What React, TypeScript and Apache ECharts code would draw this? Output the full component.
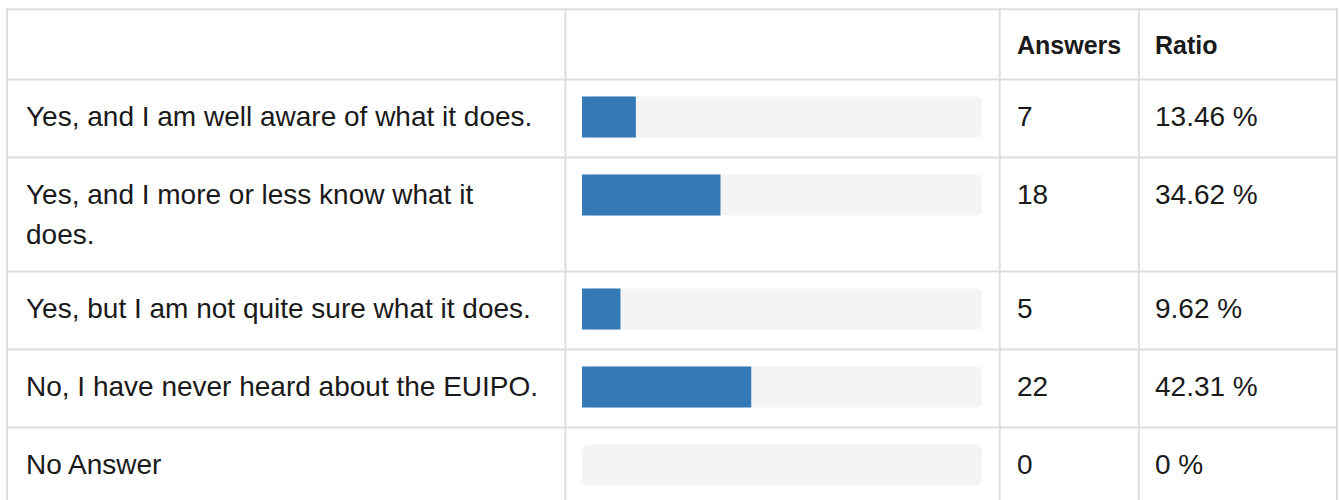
import React, { useEffect, useRef } from "react";
import * as echarts from "echarts";

// ---- data ----
const answerLabels = [
  "Yes, and I am well aware of what it does.",
  "Yes, and I more or less know what it does.",
  "Yes, but I am not quite sure what it does.",
  "No, I have never heard about the EUIPO.",
  "No Answer",
];
const answerCounts = [7, 18, 5, 22, 0];
const answerRatios = [13.46, 34.62, 9.62, 42.31, 0];
const headerAnswers = "Answers";
const headerRatio = "Ratio";

// ---- layout (pixels) ----
const W = 1340;
const H = 500;
const tableTop = 9.3;
const rowLines = [79.5, 157.5, 271.5, 349.5, 427.5];
const colLines = [7, 565.3, 999.7, 1138.8, 1337];
const barLeft = 582;
const barWidthPx = 400;
const barHeight = 41;
const barOffset = 17;
const labelX = 26;
const countX = 1017;
const ratioX = 1155;
const FONT = "'Liberation Sans', Arial, Helvetica, sans-serif";
const TEXT = "#1a1a1a";
const BORDER = "#dedede";
const fontSize = 28;
const lineH = 40;

export default function App() {
  const ref = useRef<HTMLDivElement>(null);

  useEffect(() => {
    if (!ref.current) return;
    const chart = echarts.init(ref.current, undefined, { renderer: "svg" });

    const grids: any[] = [];
    const xAxes: any[] = [];
    const yAxes: any[] = [];
    const series: any[] = [];
    const graphics: any[] = [];

    answerLabels.forEach((label, i) => {
      const top = rowLines[i] + barOffset;
      grids.push({ left: barLeft, top, width: barWidthPx, height: barHeight, containLabel: false });
      xAxes.push({ type: "value", gridIndex: i, min: 0, max: 100, show: false });
      yAxes.push({ type: "category", gridIndex: i, data: [label], show: false });
      series.push({
        type: "bar",
        xAxisIndex: i,
        yAxisIndex: i,
        data: [answerRatios[i]],
        barWidth: barHeight,
        showBackground: true,
        backgroundStyle: { color: "#f4f4f4", borderRadius: 6 },
        itemStyle: { color: "#337ab7" },
        silent: true,
      });
      const textY = top + barHeight / 2 - lineH / 2 - 0.5;
      graphics.push({
        type: "text",
        x: labelX,
        y: textY,
        style: {
          text: label,
          fill: TEXT,
          font: `${fontSize}px ${FONT}`,
          width: 516,
          overflow: "break",
          lineHeight: lineH,
          verticalAlign: "top",
        },
      });
      graphics.push({
        type: "text",
        x: countX,
        y: textY,
        style: {
          text: String(answerCounts[i]),
          fill: TEXT,
          font: `${fontSize}px ${FONT}`,
          lineHeight: lineH,
          verticalAlign: "top",
        },
      });
      graphics.push({
        type: "text",
        x: ratioX,
        y: textY,
        style: {
          text: `${answerRatios[i]} %`,
          fill: TEXT,
          font: `${fontSize}px ${FONT}`,
          lineHeight: lineH,
          verticalAlign: "top",
        },
      });
    });

    // header texts
    const headerY = (tableTop + rowLines[0]) / 2 - lineH / 2 + 0.5;
    graphics.push({
      type: "text",
      x: countX,
      y: headerY,
      style: { text: headerAnswers, fill: TEXT, font: `bold 25px ${FONT}`, lineHeight: lineH, verticalAlign: "top" },
    });
    graphics.push({
      type: "text",
      x: ratioX,
      y: headerY,
      style: { text: headerRatio, fill: TEXT, font: `bold 25px ${FONT}`, lineHeight: lineH, verticalAlign: "top" },
    });

    // table lines
    [tableTop, ...rowLines].forEach((y) => {
      graphics.push({
        type: "line",
        shape: { x1: colLines[0] - 1, y1: y, x2: colLines[colLines.length - 1] + 1, y2: y },
        style: { stroke: BORDER, lineWidth: 2 },
        z: 10,
      });
    });
    colLines.forEach((x) => {
      graphics.push({
        type: "line",
        shape: { x1: x, y1: tableTop - 1, x2: x, y2: H },
        style: { stroke: BORDER, lineWidth: 2 },
        z: 10,
      });
    });

    chart.setOption({
      animation: false,
      backgroundColor: "#ffffff",
      grid: grids,
      xAxis: xAxes,
      yAxis: yAxes,
      series,
      graphic: { elements: graphics },
    });

    return () => chart.dispose();
  }, []);

  return (
    <div
      ref={ref}
      style={{ position: "fixed", left: 0, top: 0, width: W, height: H, background: "#fff" }}
    />
  );
}
